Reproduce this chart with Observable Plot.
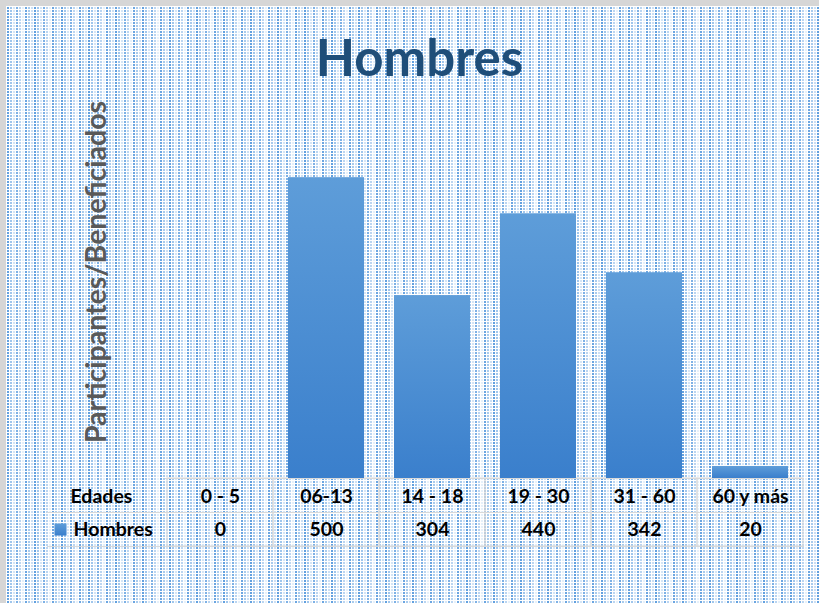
<!DOCTYPE html>
<html>
<head>
<meta charset="utf-8">
<script src="https://cdn.jsdelivr.net/npm/d3@7"></script>
<script src="https://cdn.jsdelivr.net/npm/@observablehq/plot@0.6"></script>
<style>
  html, body { margin: 0; padding: 0; overflow: hidden; }
  #wrap { position: relative; width: 819px; height: 603px; background: #d6d6d6; }
  #bg { position: absolute; left: 6px; top: 6px; right: 0; bottom: 0; border-left: 1px solid #fff; border-top: 1px solid #fff; }
  #chart { position: absolute; left: 0; top: 0; }
</style>
</head>
<body>
<div id="wrap"><div id="bg"></div><div id="chart"></div></div>
<script>
const title = "Hombres";
const yLabel = "Participantes/Beneficiados";
const rowLabel = "Edades";
const seriesName = "Hombres";
const categories = ["0 - 5", "06-13", "14 - 18", "19 - 30", "31 - 60", "60 y más"];
const values = [0, 500, 304, 440, 342, 20];

const data = categories.map((c, i) => ({edad: c, valor: values[i]}));

// dotted background tile
const ops = [0.9, 0.55, 0.25, 0.75, 0.4, 0.15, 0.85, 0.5, 0.3];
let tile = "<svg xmlns='http://www.w3.org/2000/svg' width='27' height='3'>";
ops.forEach((o, i) => { tile += `<rect x='${i*3}' y='0' width='2' height='2' fill='#5297dc' fill-opacity='${o}'/>`; });
tile += "</svg>";
document.getElementById("bg").style.background = "#ffffff url(\"data:image/svg+xml;utf8," + encodeURIComponent(tile) + "\")";

function defs() {
  const d = d3.create("svg:defs");
  const g = d.append("linearGradient").attr("id", "barGrad").attr("x1", 0).attr("y1", 0).attr("x2", 0).attr("y2", 1);
  g.append("stop").attr("offset", "0%").attr("stop-color", "#5e9dd9");
  g.append("stop").attr("offset", "100%").attr("stop-color", "#3a7fcc");
  return d.node();
}

const font = "Lato, 'Open Sans', sans-serif";
const chart = Plot.plot({
  width: 819,
  height: 603,
  marginLeft: 165,
  marginRight: 15,
  marginTop: 117,
  marginBottom: 125,
  x: {domain: categories, padding: 0, axis: null},
  y: {domain: [0, 600], axis: null},
  style: {background: "transparent", fontFamily: font},
  marks: [
    defs,
    // data table grid
    Plot.barY(categories, {x: d => d, y1: 0, y2: 0, insetBottom: -68, fill: "none", stroke: "#d9d9d9", strokeWidth: 1}),
    Plot.ruleY([0], {dy: 34, insetLeft: -118, stroke: "#d9d9d9"}),
    Plot.ruleY([0], {dy: 68, insetLeft: -118, stroke: "#d9d9d9"}),
    Plot.ruleY([0], {stroke: "#d9d9d9"}),
    // bars
    Plot.barY(data, {x: "edad", y: "valor", fill: "url(#barGrad)", insetLeft: 15, insetRight: 15}),
    // title
    Plot.text([title], {frameAnchor: "top", lineAnchor: "middle", dx: -65.5, dy: -58, fontSize: 51, fontWeight: "bold", fill: "#1f4e79"}),
    // y axis label
    Plot.text([yLabel], {frameAnchor: "left", textAnchor: "middle", lineAnchor: "middle", rotate: -90, dx: -69, dy: -26, fontSize: 28.5, fontWeight: "bold", fill: "#595959"}),
    // table text
    Plot.text([rowLabel], {frameAnchor: "bottom-left", textAnchor: "start", lineAnchor: "middle", dx: -95, dy: 18, fontSize: 19.5, fontWeight: "bold", fill: "#000"}),
    Plot.text(categories, {x: d => d, frameAnchor: "bottom", lineAnchor: "middle", dy: 18, fontSize: 19.5, fontWeight: "bold", fill: "#000"}),
    Plot.dot([seriesName], {frameAnchor: "bottom-left", dx: -105, dy: 51, symbol: "square", r: 6.8, fill: "url(#barGrad)"}),
    Plot.text([seriesName], {frameAnchor: "bottom-left", textAnchor: "start", lineAnchor: "middle", dx: -92, dy: 51, fontSize: 19.5, fontWeight: "bold", fill: "#000"}),
    Plot.text(data, {x: "edad", text: d => String(d.valor), frameAnchor: "bottom", lineAnchor: "middle", dy: 51, fontSize: 19.5, fontWeight: "bold", fill: "#000"})
  ]
});
document.getElementById("chart").appendChild(chart);
</script>
</body>
</html>
